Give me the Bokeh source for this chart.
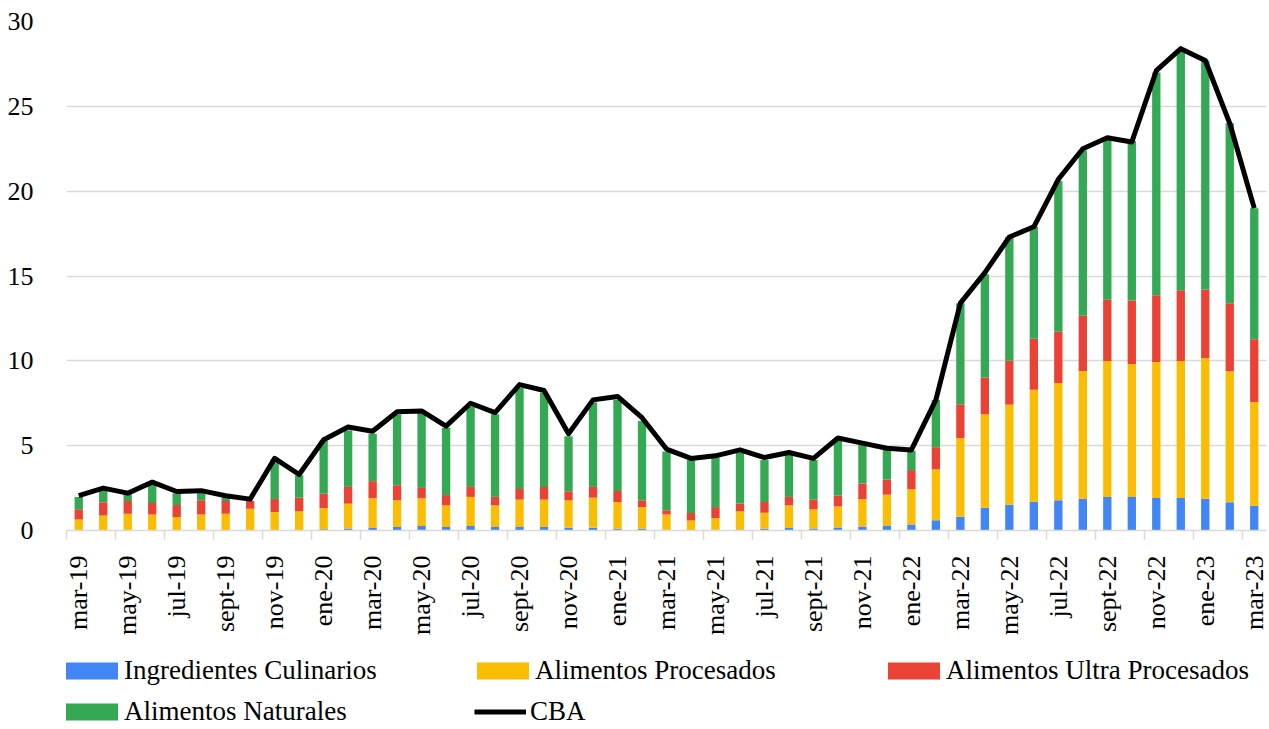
import numpy as np
from bokeh.plotting import figure
from bokeh.layouts import column
from bokeh.models import Range1d, FixedTicker, Legend, LegendItem
from bokeh.embed import file_html
from bokeh.resources import INLINE

months = ["mar-19", "abr-19", "may-19", "jun-19", "jul-19", "ago-19", "sept-19", "oct-19",
          "nov-19", "dic-19", "ene-20", "feb-20", "mar-20", "abr-20", "may-20", "jun-20",
          "jul-20", "ago-20", "sept-20", "oct-20", "nov-20", "dic-20", "ene-21", "feb-21",
          "mar-21", "abr-21", "may-21", "jun-21", "jul-21", "ago-21", "sept-21", "oct-21",
          "nov-21", "dic-21", "ene-22", "feb-22", "mar-22", "abr-22", "may-22", "jun-22",
          "jul-22", "ago-22", "sept-22", "oct-22", "nov-22", "dic-22", "ene-23", "feb-23",
          "mar-23"]

ingredientes = [-0.05, -0.05, 0.02, 0.02, 0.02, 0.02, 0.02, 0.02, 0.03, 0.03, 0.08, 0.12,
                0.14, 0.20, 0.26, 0.20, 0.26, 0.20, 0.20, 0.20, 0.16, 0.16, 0.10, 0.10,
                0.04, 0.02, 0.04, 0.06, 0.10, 0.14, 0.12, 0.18, 0.24, 0.30, 0.36, 0.60,
                0.81, 1.34, 1.52, 1.69, 1.79, 1.87, 1.97, 1.97, 1.91, 1.91, 1.87, 1.67, 1.46]

procesados = [0.65, 0.89, 0.97, 0.93, 0.77, 0.93, 0.97, 1.26, 1.06, 1.10, 1.24, 1.46,
              1.76, 1.58, 1.64, 1.28, 1.72, 1.28, 1.62, 1.62, 1.62, 1.78, 1.58, 1.28,
              0.91, 0.57, 0.69, 1.07, 0.95, 1.34, 1.13, 1.24, 1.60, 1.81, 2.07, 3.01,
              4.64, 5.51, 5.90, 6.60, 6.90, 7.53, 8.02, 7.84, 8.02, 8.08, 8.29, 7.71, 6.12]

ultra = [0.60, 0.77, 0.75, 0.67, 0.71, 0.83, 0.75, 0.46, 0.77, 0.81, 0.85, 0.99,
         1.01, 0.89, 0.61, 0.61, 0.59, 0.50, 0.63, 0.75, 0.53, 0.63, 0.65, 0.40,
         0.24, 0.44, 0.65, 0.45, 0.63, 0.50, 0.57, 0.64, 0.93, 0.89, 1.13, 1.30,
         1.99, 2.17, 2.58, 3.01, 3.03, 3.26, 3.61, 3.74, 3.94, 4.17, 4.04, 4.02, 3.69]

naturales = [0.73, 0.79, 0.43, 1.13, 0.70, 0.47, 0.21, -0.10, 2.34, 1.31, 3.13, 3.33,
             2.79, 4.18, 4.39, 3.96, 4.73, 4.87, 5.95, 5.53, 3.24, 4.98, 5.37, 4.67,
             3.46, 3.12, 2.92, 3.02, 2.47, 2.47, 2.33, 3.24, 2.28, 1.75, 1.14, 2.78,
             5.96, 6.08, 7.30, 6.60, 8.88, 9.74, 9.45, 9.40, 13.13, 14.04, 13.50, 10.60, 7.73]

cba = [2.05, 2.50, 2.20, 2.85, 2.30, 2.35, 2.05, 1.85, 4.25, 3.30, 5.35, 6.10,
       5.85, 7.00, 7.05, 6.15, 7.50, 6.95, 8.60, 8.25, 5.70, 7.70, 7.90, 6.65,
       4.80, 4.25, 4.40, 4.75, 4.30, 4.60, 4.25, 5.45, 5.15, 4.85, 4.75, 7.70,
       13.40, 15.20, 17.30, 17.90, 20.70, 22.50, 23.15, 22.90, 27.10, 28.40, 27.70, 24.00, 19.00]

y_ticks = [0, 5, 10, 15, 20, 25, 30]

FONT = "Liberation Serif"
n = len(months)
x = np.arange(n)

series = [("Ingredientes Culinarios", ingredientes, "#4285F4"),
          ("Alimentos Procesados", procesados, "#FBBC04"),
          ("Alimentos Ultra Procesados", ultra, "#EA4335"),
          ("Alimentos Naturales", naturales, "#34A853")]

# stacking: positive values upward, negative values downward (as in the source chart)
stacks = []
pos_base = np.zeros(n)
neg_base = np.zeros(n)
for name, vals, color in series:
    v = np.array(vals, dtype=float)
    bottom = np.where(v >= 0, pos_base, neg_base)
    top = bottom + v
    pos_base = np.where(v >= 0, top, pos_base)
    neg_base = np.where(v < 0, top, neg_base)
    stacks.append((name, color, bottom, top))

# ---------------- main chart ----------------
p = figure(width=1269, height=640, output_backend="svg", toolbar_location=None,
           x_range=Range1d(-0.5, n - 0.5), y_range=Range1d(0, 30),
           min_border_left=66, min_border_right=3, min_border_top=21, min_border_bottom=110)
p.outline_line_color = None
p.background_fill_color = "white"
p.border_fill_color = "white"

for name, color, bottom, top in stacks:
    p.vbar(x=x, bottom=bottom, top=top, width=0.34, fill_color=color, line_color=None)

p.line(x, cba, line_color="black", line_width=5, line_join="round")

p.yaxis.ticker = FixedTicker(ticks=y_ticks)
p.yaxis.axis_line_color = None
p.yaxis.major_tick_line_color = None
p.yaxis.minor_tick_line_color = None
p.yaxis.major_label_standoff = 27
p.yaxis.major_label_text_font = FONT
p.yaxis.major_label_text_font_size = "26px"
p.yaxis.major_label_text_color = "black"

label_pos = list(range(0, n, 2))
p.xaxis.ticker = FixedTicker(ticks=label_pos, minor_ticks=[i - 0.5 for i in range(0, n, 2)])
p.xaxis.major_label_overrides = {i: months[i] for i in label_pos}
p.xaxis.major_label_orientation = np.pi / 2
p.xaxis.major_tick_line_color = None
p.xaxis.major_tick_out = 0
p.xaxis.major_tick_in = 0
p.xaxis.minor_tick_line_color = "#d9d9d9"
p.xaxis.minor_tick_line_width = 1.5
p.xaxis.minor_tick_out = 9
p.xaxis.minor_tick_in = 0
p.xaxis.axis_line_color = "#d9d9d9"
p.xaxis.axis_line_width = 1.5
p.xaxis.major_label_standoff = 16
p.xaxis.major_label_text_font = FONT
p.xaxis.major_label_text_font_size = "26px"
p.xaxis.major_label_text_color = "black"

p.xgrid.grid_line_color = None
p.ygrid.grid_line_color = "#d9d9d9"
p.ygrid.grid_line_width = 1.5

# ---------------- legend strip ----------------
# legend stand-ins: one NaN point each, so nothing is drawn except the legend entries
lg = figure(width=1269, height=89, output_backend="svg", toolbar_location=None,
            x_range=Range1d(0, 1), y_range=Range1d(0, 1), x_axis_type=None, y_axis_type=None,
            min_border_left=0, min_border_right=0, min_border_top=0, min_border_bottom=0)
lg.outline_line_color = None
lg.xgrid.visible = False
lg.ygrid.visible = False

nan = [float("nan")]
bar_items = []
for name, color, bottom, top in stacks:
    r = lg.vbar(x=nan, bottom=nan, top=nan, width=0.34, fill_color=color, line_color=None)
    bar_items.append(LegendItem(label=name, renderers=[r]))
rl = lg.line(x=nan, y=nan, line_color="black", line_width=5)

common = dict(orientation="horizontal", padding=0, margin=0, border_line_color=None,
              background_fill_alpha=0, label_text_font=FONT, label_text_font_size="27px",
              label_text_color="black", label_height=30, spacing=10)

legend_bars = Legend(items=bar_items, ncols=3, location=(-7, 2),
                     glyph_width=65, glyph_height=21, label_standoff=0, label_width=336,
                     **common)
legend_line = Legend(items=[LegendItem(label="CBA", renderers=[rl])], location=(408, 2),
                     glyph_width=52, glyph_height=21, label_standoff=4, **common)
lg.add_layout(legend_bars)
lg.add_layout(legend_line)

layout = column(p, lg, spacing=0)
open("out.html", "w").write(file_html(layout, INLINE))
